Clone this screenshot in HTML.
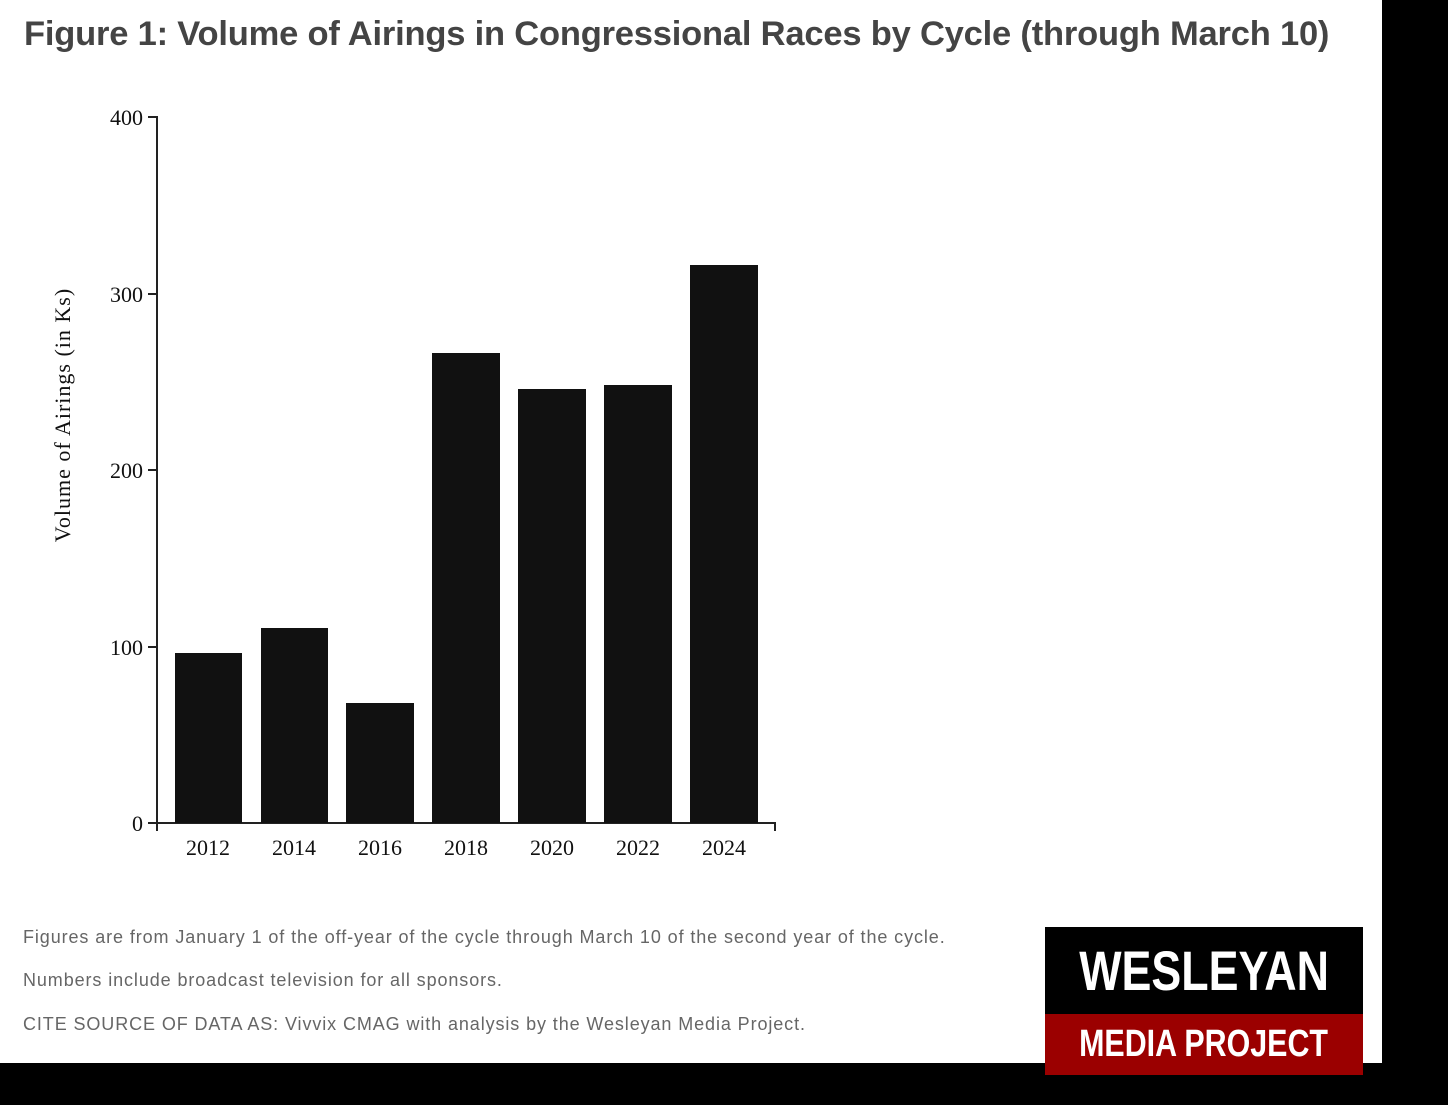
<!DOCTYPE html>
<html><head><meta charset="utf-8"><style>
body{margin:0;width:1448px;height:1105px;background:#000;position:relative;overflow:hidden;font-family:"Liberation Sans",sans-serif}
#w{position:absolute;left:0;top:0;width:1382px;height:1063px;background:#fff}
h1{position:absolute;left:24px;top:15px;margin:0;font-size:34.5px;font-weight:bold;color:#444;letter-spacing:-0.2px;white-space:nowrap}
.n{position:absolute;left:23px;font-size:18px;letter-spacing:0.9px;color:#666;white-space:nowrap}
#logo{position:absolute;left:1045px;top:927px;width:318px;height:148px}
#lt{height:87px;background:#000;color:#fff;font-weight:bold;font-size:56px;text-align:center;line-height:87px;overflow:hidden}
#lb{position:absolute;top:87px;left:0;width:318px;height:61px;background:#9b0000;color:#fff;font-weight:bold;font-size:38px;text-align:center;line-height:61px}
</style></head><body>
<div id="w">
<h1>Figure 1: Volume of Airings in Congressional Races by Cycle (through March 10)</h1>
<svg width="1382" height="1063" style="position:absolute;left:0;top:0" font-family="Liberation Serif,serif" font-size="22" fill="#111">
<g stroke="#222" stroke-width="2" fill="none">
<path d="M148 117H157V823H775V831M157 823V831"/>
<path d="M148 294H157M148 470H157M148 647H157M148 823H157"/>
</g>
<g fill="#111">
<rect x="175" y="653" width="67" height="170"/>
<rect x="261" y="628" width="67" height="195"/>
<rect x="346" y="703" width="68" height="120"/>
<rect x="432" y="353" width="68" height="470"/>
<rect x="518" y="389" width="68" height="434"/>
<rect x="604" y="385" width="68" height="438"/>
<rect x="690" y="265" width="68" height="558"/>
</g>
<g text-anchor="end">
<text x="143" y="125">400</text><text x="143" y="302">300</text><text x="143" y="478">200</text><text x="143" y="655">100</text><text x="143" y="831">0</text>
</g>
<g text-anchor="middle">
<text x="208" y="855">2012</text><text x="294" y="855">2014</text><text x="380" y="855">2016</text><text x="466" y="855">2018</text><text x="552" y="855">2020</text><text x="638" y="855">2022</text><text x="724" y="855">2024</text>
<text transform="translate(70 415) rotate(-90)" font-size="22" letter-spacing="1">Volume of Airings (in Ks)</text>
</g>
</svg>
<div class="n" style="top:927px">Figures are from January 1 of the off-year of the cycle through March 10 of the second year of the cycle.</div>
<div class="n" style="top:970px">Numbers include broadcast television for all sponsors.</div>
<div class="n" style="top:1014px">CITE SOURCE OF DATA AS: Vivvix CMAG with analysis by the Wesleyan Media Project.</div>
</div>
<div id="logo"><div id="lt"><span style="display:inline-block;transform:scaleX(0.8)">WESLEYAN</span></div><div id="lb"><span style="display:inline-block;transform:scaleX(0.8)">MEDIA PROJECT</span></div></div>
</body></html>
